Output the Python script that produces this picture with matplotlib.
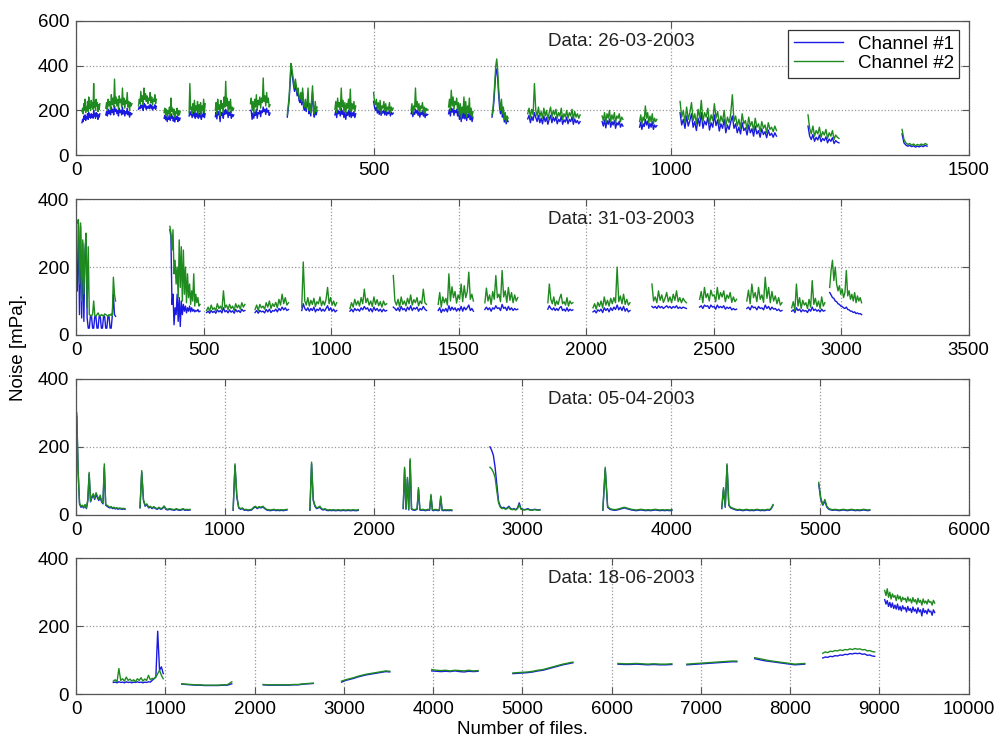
import numpy as np
import matplotlib
matplotlib.use("Agg")
import matplotlib.pyplot as plt

plt.rcParams['font.family'] = ['Liberation Sans', 'DejaVu Sans']

# ---- 26-03-2003 ----
seg_26 = [(10, 40), (50, 94), (105, 135), (148, 175), (190, 217), (234, 265), (293, 326),
          (355, 405), (435, 470), (500, 533), (563, 591), (626, 667), (699, 726), (759, 847),
          (884, 919), (947, 976), (1015, 1177), (1230, 1282), (1388, 1430)]
ch1_26 = [
    [145, 160, 150, 175, 160, 180, 155, 170, 165, 185, 160, 190, 170, 180, 165, 185, 170, 180, 165, 200, 175, 185, 165, 190, 175, 185, 160, 180, 170, 185],
    [180, 195, 175, 205, 185, 200, 180, 215, 190, 205, 180, 220, 195, 205, 185, 200, 175, 210, 190, 200, 180, 215, 185, 200, 175, 195, 185, 210, 180, 195, 170, 190, 180, 185],
    [205, 215, 208, 225, 212, 222, 200, 232, 215, 225, 205, 218, 210, 220, 208, 228, 210, 222, 202, 215, 210, 225, 205, 218],
    [165, 178, 158, 172, 150, 170, 160, 180, 155, 185, 165, 175, 152, 170, 148, 168, 160, 175, 150, 168, 155, 165],
    [175, 195, 180, 188, 168, 192, 175, 198, 165, 185, 172, 195, 165, 188, 170, 192, 160, 182, 172, 198, 168, 185],
    [172, 192, 162, 198, 180, 188, 150, 192, 178, 190, 165, 200, 182, 205, 185, 198, 168, 192, 178, 196, 165, 182, 172, 180],
    [200, 198, 160, 188, 165, 192, 178, 205, 165, 190, 185, 200, 172, 198, 190, 215, 195, 205, 182, 210, 192, 200, 178, 188],
    [170, 205, 245, 310, 390, 370, 340, 310, 285, 320, 290, 265, 285, 245, 235, 262, 225, 280, 215, 200, 232, 195, 220, 275, 185, 212, 175, 232, 280, 195, 170, 222, 180, 200],
    [180, 198, 168, 202, 185, 195, 175, 210, 182, 198, 168, 192, 160, 190, 178, 200, 172, 205, 168, 190, 175, 195, 168, 185],
    [240, 215, 200, 215, 188, 202, 182, 205, 178, 195, 188, 202, 180, 198, 178, 192, 185, 200, 175, 192, 182, 188],
    [185, 198, 172, 192, 182, 205, 188, 200, 178, 195, 170, 190, 182, 198, 175, 190, 168, 185, 178, 182],
    [185, 205, 175, 210, 192, 208, 178, 200, 190, 205, 175, 198, 160, 192, 150, 185, 165, 205, 162, 195, 155, 182, 168, 200, 158, 178, 150, 170],
    [170, 195, 240, 305, 370, 385, 345, 270, 215, 185, 225, 170, 195, 148, 172, 140, 160, 150],
    [162, 178, 145, 172, 155, 190, 168, 150, 178, 145, 165, 140, 175, 150, 168, 138, 160, 178, 145, 170, 152, 172, 140, 160, 150, 175, 138, 158, 148, 170, 140, 160, 150, 172, 138, 162, 145, 155, 140, 150],
    [150, 130, 158, 122, 155, 138, 162, 125, 150, 135, 155, 120, 145, 135, 152, 125, 140, 130],
    [125, 148, 115, 140, 128, 160, 135, 152, 120, 142, 125, 150, 115, 135, 125, 132],
    [190, 135, 160, 120, 175, 130, 155, 185, 125, 150, 110, 165, 130, 190, 120, 152, 135, 170, 112, 145, 125, 180, 132, 158, 108, 140, 120, 160, 100, 135,
     115, 148, 175, 120, 140, 100, 125, 95, 145, 110, 122, 90, 135, 100, 118, 85, 130, 95, 110, 80, 118, 92, 105, 78, 112, 88, 98, 80, 100, 85],
    [130, 85, 70, 92, 62, 80, 68, 90, 60, 75, 65, 82, 55, 72, 62, 78, 52, 65, 58, 55],
    [95, 55, 45, 40, 44, 38, 42, 36, 40, 37, 42, 38, 44, 40],
]
ch2_26 = [
    [195, 210, 185, 230, 200, 250, 190, 215, 205, 240, 195, 260, 210, 225, 200, 245, 215, 235, 205, 320, 215, 240, 200, 250, 220, 235, 195, 225, 205, 230],
    [210, 235, 200, 250, 220, 240, 205, 270, 225, 255, 215, 340, 230, 260, 220, 250, 205, 265, 235, 250, 215, 300, 225, 255, 210, 245, 230, 280, 215, 240, 200, 235, 220, 230],
    [220, 250, 230, 285, 240, 265, 225, 300, 250, 275, 240, 265, 230, 255, 245, 280, 235, 260, 225, 250, 240, 270, 230, 250],
    [190, 210, 180, 205, 170, 200, 185, 215, 175, 255, 195, 210, 180, 205, 170, 195, 185, 210, 175, 200, 180, 195],
    [190, 320, 205, 215, 185, 230, 200, 245, 190, 220, 200, 240, 185, 225, 195, 235, 180, 220, 200, 250, 190, 230],
    [200, 235, 185, 250, 205, 225, 175, 245, 210, 230, 190, 260, 215, 330, 220, 255, 195, 240, 205, 250, 190, 215, 200, 210],
    [230, 255, 200, 240, 185, 250, 215, 270, 200, 245, 225, 260, 210, 255, 235, 345, 240, 265, 220, 280, 235, 255, 215, 225],
    [180, 220, 260, 330, 410, 390, 360, 330, 300, 340, 310, 280, 300, 260, 250, 280, 240, 300, 230, 215, 250, 210, 235, 300, 200, 230, 190, 250, 310, 210, 185, 240, 195, 215],
    [205, 240, 190, 255, 215, 235, 200, 300, 215, 245, 195, 235, 185, 230, 210, 250, 200, 295, 195, 230, 205, 240, 195, 220],
    [280, 240, 225, 250, 205, 235, 200, 245, 190, 220, 210, 240, 200, 230, 195, 215, 205, 235, 190, 215, 200, 210],
    [200, 230, 185, 220, 205, 300, 215, 240, 200, 230, 190, 220, 210, 235, 195, 215, 185, 210, 200, 205],
    [215, 250, 200, 290, 220, 260, 205, 240, 225, 255, 200, 235, 180, 230, 165, 215, 190, 260, 185, 240, 170, 220, 190, 255, 180, 210, 170, 195],
    [180, 210, 260, 330, 400, 430, 380, 300, 240, 200, 250, 185, 215, 160, 190, 150, 175, 165],
    [185, 210, 170, 205, 180, 320, 200, 175, 215, 170, 195, 165, 210, 175, 200, 160, 190, 215, 170, 200, 180, 205, 165, 190, 175, 210, 160, 185, 170, 200, 165, 190, 175, 205, 160, 195, 170, 185, 165, 180],
    [175, 155, 190, 145, 185, 165, 200, 150, 180, 160, 190, 145, 175, 165, 185, 150, 170, 160],
    [150, 180, 140, 170, 155, 220, 165, 190, 145, 175, 150, 185, 140, 165, 150, 160],
    [240, 170, 200, 145, 215, 160, 190, 235, 155, 185, 140, 205, 165, 245, 150, 190, 170, 210, 140, 180, 155, 230, 165, 195, 135, 175, 150, 200, 130, 170,
     145, 185, 270, 150, 175, 130, 160, 120, 185, 140, 155, 115, 170, 130, 150, 110, 165, 125, 140, 105, 150, 120, 135, 100, 145, 115, 125, 105, 130, 110],
    [180, 120, 95, 130, 85, 110, 95, 125, 80, 105, 90, 115, 75, 100, 85, 110, 70, 90, 80, 75],
    [115, 70, 55, 48, 52, 45, 50, 42, 48, 44, 50, 45, 52, 48],
]

# ---- 31-03-2003 ----
seg_31 = [(5, 155), (368, 486), (512, 662), (702, 833), (885, 1022), (1074, 1218), (1244, 1374),
          (1420, 1558), (1603, 1732), (1850, 1948), (2027, 2172), (2258, 2393), (2445, 2590),
          (2630, 2768), (2806, 2936), (2955, 3080)]
ch1_31 = [
    [130, 330, 60, 320, 50, 270, 40, 240, 290, 50, 20, 20, 55, 55, 20, 20, 55, 55, 20, 20, 55, 55, 20, 20, 55, 55, 20, 20, 55, 55, 20, 20, 55, 120, 60, 55],
    [310, 290, 90, 120, 30, 80, 60, 120, 40, 110, 25, 100, 60, 90, 70, 85, 65, 80, 70, 85, 68, 80, 70, 75, 68, 72, 70, 75, 68, 70],
    [66, 70, 64, 72, 66, 70, 64, 74, 68, 72, 65, 80, 68, 72, 65, 74, 67, 71, 64, 75, 68, 72, 66, 76, 70, 72],
    [66, 72, 64, 72, 68, 70, 65, 75, 68, 76, 66, 72, 70, 76, 68, 78, 72, 82, 74, 80, 72, 75],
    [72, 92, 78, 72, 80, 70, 78, 72, 82, 68, 76, 72, 80, 70, 76, 70, 78, 86, 72, 80, 70, 76, 68, 72],
    [70, 76, 68, 78, 72, 76, 70, 80, 74, 84, 76, 80, 70, 78, 68, 82, 72, 78, 70, 76, 68, 76, 70, 72],
    [82, 78, 72, 80, 70, 84, 74, 78, 70, 82, 74, 86, 72, 80, 76, 82, 70, 78, 74, 84, 76, 72],
    [72, 80, 66, 76, 70, 78, 68, 86, 72, 82, 74, 80, 70, 78, 72, 84, 70, 82, 74, 80, 88, 72, 78, 70],
    [75, 82, 74, 80, 70, 80, 76, 86, 78, 80, 72, 90, 78, 82, 72, 84, 74, 80, 72, 78, 74, 76],
    [76, 86, 78, 74, 80, 72, 78, 72, 80, 84, 72, 76, 70, 80, 70, 76, 72, 74],
    [68, 72, 65, 74, 70, 76, 66, 80, 72, 78, 68, 80, 72, 82, 75, 88, 74, 82, 72, 84, 70, 78, 68, 72],
    [84, 80, 84, 78, 86, 80, 84, 78, 82, 86, 80, 84, 78, 84, 80, 86, 78, 82, 78, 82, 80, 78],
    [82, 86, 78, 88, 84, 86, 78, 88, 82, 84, 76, 88, 80, 84, 80, 86, 76, 82, 78, 82, 74, 78, 74, 76],
    [78, 82, 74, 86, 80, 82, 74, 84, 78, 80, 74, 88, 78, 84, 74, 82, 76, 78, 72, 76, 70, 72],
    [70, 74, 66, 80, 72, 76, 68, 74, 70, 72, 66, 76, 70, 82, 72, 76, 70, 74, 68, 76, 70, 72],
    [125, 118, 110, 108, 100, 98, 92, 90, 85, 84, 80, 78, 82, 75, 74, 70, 70, 66, 68, 63, 65, 62, 63, 60],
]
ch2_31 = [
    [330, 340, 150, 330, 100, 280, 120, 250, 300, 80, 260, 60, 58, 55, 62, 100, 58, 55, 60, 65, 58, 55, 60, 58, 55, 62, 60, 58, 55, 60, 58, 62, 56, 170, 120, 100],
    [320, 300, 250, 310, 180, 220, 150, 200, 110, 280, 140, 260, 100, 250, 120, 200, 95, 180, 110, 150, 90, 130, 100, 180, 85, 120, 95, 110, 85, 90],
    [72, 82, 70, 88, 75, 80, 72, 92, 78, 85, 74, 130, 80, 88, 75, 90, 78, 85, 72, 92, 80, 88, 76, 95, 82, 90],
    [75, 88, 72, 90, 80, 85, 76, 95, 82, 100, 78, 92, 84, 96, 80, 105, 88, 120, 92, 110, 88, 95],
    [82, 215, 100, 88, 110, 85, 102, 90, 108, 84, 98, 92, 112, 86, 100, 88, 105, 140, 92, 110, 88, 100, 85, 95],
    [78, 95, 82, 105, 88, 100, 85, 110, 92, 135, 95, 108, 88, 100, 84, 112, 90, 104, 86, 98, 82, 100, 88, 92],
    [175, 100, 88, 105, 82, 112, 90, 100, 86, 108, 92, 118, 88, 104, 95, 110, 86, 100, 92, 135, 95, 90],
    [90, 125, 82, 112, 95, 108, 88, 180, 100, 142, 110, 128, 94, 118, 105, 150, 98, 145, 110, 128, 185, 105, 120, 100],
    [95, 138, 100, 118, 90, 128, 105, 175, 110, 120, 98, 190, 112, 130, 96, 140, 102, 125, 95, 118, 100, 110],
    [95, 150, 105, 92, 112, 86, 100, 90, 108, 120, 92, 98, 88, 110, 85, 100, 92, 95],
    [80, 92, 76, 96, 84, 100, 80, 112, 88, 102, 85, 108, 92, 110, 95, 200, 98, 115, 92, 120, 90, 105, 88, 95],
    [150, 100, 112, 95, 130, 102, 118, 96, 108, 125, 98, 112, 95, 120, 102, 130, 98, 110, 95, 108, 100, 95],
    [105, 128, 95, 140, 110, 122, 100, 132, 115, 118, 98, 140, 105, 125, 112, 130, 98, 118, 108, 125, 96, 112, 98, 105],
    [100, 132, 92, 150, 110, 125, 98, 140, 105, 118, 96, 170, 108, 140, 95, 128, 100, 115, 92, 110, 88, 95],
    [80, 98, 72, 150, 85, 110, 78, 102, 88, 95, 78, 105, 82, 160, 90, 108, 84, 100, 78, 112, 85, 95],
    [140, 190, 220, 160, 200, 150, 130, 145, 120, 135, 110, 125, 190, 115, 130, 105, 120, 100, 125, 95, 115, 100, 110, 95],
]

# ---- 05-04-2003 ----
seg_05 = [(5, 329), (430, 766), (1056, 1418), (1572, 1897), (2199, 2526), (2782, 3118),
          (3541, 4005), (4340, 4685), (4992, 5335)]
ch1_05 = [
    [290, 125, 32, 22, 25, 20, 28, 18, 40, 120, 38, 50, 58, 45, 60, 50, 42, 52, 38, 32, 140, 28, 25, 22, 20, 22, 18, 20, 17, 19, 16, 18, 17, 16, 17, 16],
    [20, 125, 42, 25, 30, 20, 23, 18, 22, 18, 16, 20, 16, 18, 24, 16, 14, 16, 15, 14, 13, 16, 14, 13, 14, 16, 13, 14, 13, 14],
    [13, 145, 52, 20, 16, 18, 13, 14, 12, 13, 14, 20, 23, 18, 22, 20, 23, 18, 14, 13, 12, 13, 14, 12, 13, 12, 13, 12, 13, 14],
    [13, 150, 42, 25, 18, 20, 22, 16, 14, 16, 13, 12, 13, 12, 13, 12, 12, 13, 12, 12, 13, 12, 12, 13, 12, 12, 13, 12, 12, 13],
    [18, 135, 16, 105, 14, 160, 16, 14, 13, 14, 16, 75, 14, 13, 14, 13, 12, 13, 14, 13, 55, 13, 12, 14, 13, 12, 13, 50, 13, 12, 13, 12, 13, 12, 13, 12],
    [200, 190, 175, 140, 90, 40, 25, 20, 22, 18, 20, 25, 18, 16, 18, 15, 20, 35, 18, 16, 15, 16, 18, 15, 14, 15, 16, 15, 14, 15],
    [13, 135, 22, 16, 14, 13, 14, 16, 18, 20, 18, 16, 14, 13, 12, 13, 14, 13, 12, 13, 12, 13, 14, 13, 12, 13, 12, 13, 12, 13],
    [18, 75, 22, 145, 28, 20, 18, 16, 14, 13, 14, 13, 12, 13, 14, 13, 12, 13, 12, 13, 14, 13, 12, 13, 12, 13, 14, 13, 18, 28],
    [90, 45, 28, 40, 22, 16, 14, 13, 14, 13, 12, 13, 14, 13, 12, 13, 14, 13, 12, 13, 12, 13, 14, 13, 12, 13],
]
ch2_05 = [
    [300, 130, 35, 25, 28, 22, 30, 20, 45, 125, 40, 55, 62, 48, 65, 55, 45, 58, 40, 35, 150, 30, 28, 25, 22, 24, 20, 22, 19, 21, 18, 20, 19, 18, 19, 18],
    [22, 130, 45, 28, 32, 22, 25, 20, 24, 20, 18, 22, 18, 20, 26, 18, 16, 18, 17, 16, 15, 18, 16, 15, 16, 18, 15, 16, 15, 16],
    [15, 150, 55, 22, 18, 20, 15, 16, 14, 15, 16, 22, 25, 20, 24, 22, 25, 20, 16, 15, 14, 15, 16, 14, 15, 14, 15, 14, 15, 16],
    [15, 155, 45, 28, 20, 22, 25, 18, 16, 18, 15, 14, 15, 14, 15, 14, 14, 15, 14, 14, 15, 14, 14, 15, 14, 14, 15, 14, 14, 15],
    [20, 140, 18, 110, 16, 165, 18, 16, 15, 16, 18, 80, 16, 15, 16, 15, 14, 15, 16, 15, 60, 15, 14, 16, 15, 14, 15, 55, 15, 14, 15, 14, 15, 14, 15, 14],
    [140, 135, 125, 110, 70, 35, 22, 18, 20, 16, 18, 22, 16, 15, 16, 14, 18, 30, 16, 15, 14, 15, 16, 14, 13, 14, 15, 14, 13, 14],
    [15, 140, 25, 18, 16, 15, 16, 18, 20, 22, 20, 18, 16, 15, 14, 15, 16, 15, 14, 15, 14, 15, 16, 15, 14, 15, 14, 15, 14, 15],
    [20, 80, 25, 150, 30, 22, 20, 18, 16, 15, 16, 15, 14, 15, 16, 15, 14, 15, 14, 15, 16, 15, 14, 15, 14, 15, 16, 15, 20, 30],
    [95, 50, 30, 45, 25, 18, 16, 15, 16, 15, 14, 15, 16, 15, 14, 15, 16, 15, 14, 15, 14, 15, 16, 15, 14, 15],
]

# ---- 18-06-2003 ----
seg_18 = [(418, 977), (1185, 1745), (2097, 2657), (2975, 3515), (3985, 4503), (4894, 5566),
          (6071, 6674), (6842, 7402), (7603, 8163), (8365, 8947), (9059, 9619)]
ch1_18 = [
    [34, 35, 33, 36, 34, 35, 33, 36, 34, 35, 33, 35, 34, 36, 34, 35, 33, 35, 34, 36, 35, 40, 45, 50, 185, 70, 80, 60],
    [29, 28, 27, 26, 26, 25, 25, 25, 25, 26, 26, 30],
    [27, 26, 26, 26, 26, 26, 27, 27, 29, 30, 31],
    [35, 40, 43, 46, 50, 53, 56, 58, 60, 62, 64, 66, 65],
    [68, 67, 66, 67, 66, 68, 66, 65, 67, 66, 67],
    [60, 61, 62, 63, 65, 68, 70, 74, 78, 82, 86, 89, 92],
    [88, 87, 87, 88, 87, 86, 87, 86, 86, 87],
    [86, 87, 88, 89, 90, 91, 92, 93, 94, 95, 95],
    [104, 101, 98, 96, 94, 92, 90, 88, 86, 87, 88],
    [106, 109, 108, 111, 110, 113, 112, 115, 114, 117, 116, 119, 118, 120, 119, 120, 117, 118, 114, 115, 112, 111],
    [278, 265, 275, 258, 270, 255, 268, 252, 262, 250, 265, 248, 258, 245, 260, 250, 255, 242, 258, 246,
     252, 240, 256, 244, 250, 238, 254, 242, 248, 230, 252, 240, 246, 236, 250, 242, 244, 232, 248, 240],
]
ch2_18 = [
    [38, 42, 36, 75, 40, 45, 38, 50, 40, 44, 38, 42, 36, 45, 40, 48, 38, 44, 40, 55, 42, 46, 45, 50, 60, 70, 55, 45],
    [30, 29, 28, 27, 27, 26, 26, 26, 26, 27, 27, 36],
    [28, 27, 27, 27, 27, 27, 28, 28, 30, 31, 32],
    [38, 42, 45, 48, 52, 55, 58, 60, 62, 64, 66, 68, 67],
    [72, 70, 69, 70, 68, 70, 69, 68, 70, 68, 69],
    [62, 63, 64, 65, 67, 70, 72, 76, 80, 84, 88, 91, 94],
    [90, 89, 89, 90, 89, 88, 89, 88, 88, 89],
    [88, 89, 90, 91, 92, 93, 94, 95, 96, 97, 97],
    [107, 104, 101, 98, 96, 94, 92, 90, 88, 89, 90],
    [120, 124, 122, 126, 125, 128, 127, 130, 128, 131, 130, 133, 131, 134, 132, 133, 130, 131, 127, 128, 125, 124],
    [305, 290, 310, 285, 300, 280, 295, 285, 290, 275, 292, 280, 288, 272, 285, 278, 282, 270, 286, 274,
     280, 268, 284, 272, 278, 265, 282, 270, 276, 262, 280, 268, 274, 265, 278, 270, 272, 262, 276, 268],
]

panels = [
    ("Data: 26-03-2003", seg_26, ch1_26, ch2_26, 1500, 600, [0, 500, 1000, 1500], [0, 200, 400, 600]),
    ("Data: 31-03-2003", seg_31, ch1_31, ch2_31, 3500, 400, list(range(0, 3501, 500)), [0, 200, 400]),
    ("Data: 05-04-2003", seg_05, ch1_05, ch2_05, 6000, 400, list(range(0, 6001, 1000)), [0, 200, 400]),
    ("Data: 18-06-2003", seg_18, ch1_18, ch2_18, 10000, 400, list(range(0, 10001, 1000)), [0, 200, 400]),
]


# Joins the segments into one line, with NaN gaps between them.
def joinSegments(segs, vals):
    xs, ys = [], []
    for (a, b), v in zip(segs, vals):
        xs.extend(np.linspace(a, b, len(v)).tolist() + [np.nan])
        ys.extend(list(v) + [np.nan])
    return xs, ys


fig = plt.figure(figsize=(10.03, 7.46), dpi=100)
bottoms = [0.792, 0.551, 0.310, 0.0697]
heights = [0.180, 0.182, 0.182, 0.182]
blue = '#1a1ae0'
green = '#1f8a1f'
fs = 13.5

for i, (title, segs, c1, c2, xmax, ymax, xt, yt) in enumerate(panels):
    ax = fig.add_axes([0.0758, bottoms[i], 0.890, heights[i]])
    x1, y1 = joinSegments(segs, c1)
    x2, y2 = joinSegments(segs, c2)
    ax.plot(x1, y1, color=blue, lw=1.0, label='Channel #1')
    ax.plot(x2, y2, color=green, lw=1.0, label='Channel #2')
    ax.set_xlim(0, xmax)
    ax.set_ylim(0, ymax)
    ax.set_xticks(xt)
    ax.set_yticks(yt)
    ax.grid(True, linestyle=':', color='#999999', lw=0.9)
    ax.tick_params(direction='in', top=True, right=True, labelsize=fs, length=5, color='#555555', pad=5)
    for s in ax.spines.values():
        s.set_color('#555555')
        s.set_linewidth(0.9)
    ax.text(0.529, 0.85, title, transform=ax.transAxes, fontsize=fs, va='center', ha='left', color='#222222')
    if i == 0:
        leg = ax.legend(loc='upper right', fontsize=fs, fancybox=False, framealpha=1,
                        edgecolor='#333333', handlelength=2.6, borderpad=0.3,
                        labelspacing=0.1, borderaxespad=0.5)
        leg.get_frame().set_linewidth(0.9)
    if i == 3:
        ax.set_xlabel('Number of files.', fontsize=fs, labelpad=2)

fig.text(0.018, 0.535, 'Noise [mPa].', rotation=90, va='center', ha='center', fontsize=fs)

fig.savefig('out.png', dpi=100)
